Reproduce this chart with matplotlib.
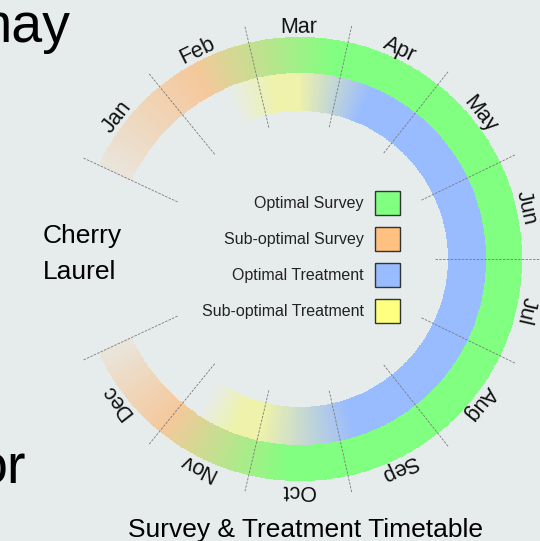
import numpy as np
import matplotlib
matplotlib.use("Agg")
import matplotlib.pyplot as plt
from matplotlib.patches import Patch
from matplotlib.colors import to_rgb

plt.rcParams['font.family'] = ['Liberation Sans', 'DejaVu Sans']

W, H = 540, 541
bg = '#e6ecec'

months = ['Jan', 'Feb', 'Mar', 'Apr', 'May', 'Jun',
          'Jul', 'Aug', 'Sep', 'Oct', 'Nov', 'Dec']
start_angle = 155.0   # degrees where Jan starts, going clockwise
span = 310.0          # degrees covered by the whole year

legend_labels = ['Optimal Survey', 'Sub-optimal Survey',
                 'Optimal Treatment', 'Sub-optimal Treatment']
legend_colors = ['#80ff80', '#ffc080', '#99bbff', '#ffff80']

ring_colors = {'opt_survey': '#80ff80', 'sub_survey': '#f5c89b',
               'opt_treat': '#99bbff', 'sub_treat': '#eef2aa'}

# colour stops along the year, in months from Jan 1st
survey_pos = [0.0, 1.4, 2.9, 9.6, 11.0, 12.0]
survey_state = ['sub_survey', 'sub_survey', 'opt_survey',
                'opt_survey', 'sub_survey', 'sub_survey']
survey_alpha = [0.2, 1.0, 1.0, 1.0, 1.0, 0.2]

treat_pos = [1.6, 2.2, 2.5, 3.4, 8.8, 10.0, 10.3, 10.8]
treat_state = ['sub_treat', 'sub_treat', 'sub_treat', 'opt_treat',
               'opt_treat', 'sub_treat', 'sub_treat', 'sub_treat']
treat_alpha = [0.0, 1.0, 1.0, 1.0, 1.0, 1.0, 1.0, 0.0]

survey_r = (186, 222)
treat_r = (148, 186)


def month_to_theta(m):
    return np.deg2rad(start_angle - np.asarray(m) * span / 12.0)


def ring_rgba(pos, state, alpha, m):
    # gradient between the stops, blended onto the page colour
    cols = np.array([to_rgb(ring_colors[s]) for s in state])
    a = np.interp(m, pos, alpha)
    base = np.array(to_rgb(bg))
    out = np.ones((len(m), 4))
    for c in range(3):
        out[:, c] = a * np.interp(m, pos, cols[:, c]) + (1 - a) * base[c]
    inside = (m >= pos[0]) & (m <= pos[-1])
    out[~inside, 3] = 0
    return out


fig = plt.figure(figsize=(W / 100, H / 100), dpi=100, facecolor=bg)

# polar axes centred on the wheel, 250 px radius
cx, cy, R = 300, 259, 250
ax = fig.add_axes([(cx - R) / W, (H - cy - R) / H, 2 * R / W, 2 * R / H],
                  projection='polar')
ax.set_theta_zero_location('E')
ax.set_theta_direction(1)
ax.set_ylim(0, R)
ax.set_axis_off()

m_edges = np.linspace(0, 12, 721)
m_mid = (m_edges[:-1] + m_edges[1:]) / 2
th_edges = month_to_theta(m_edges)

for pos, state, alpha, rr in [(survey_pos, survey_state, survey_alpha, survey_r),
                              (treat_pos, treat_state, treat_alpha, treat_r)]:
    rgba = ring_rgba(pos, state, alpha, m_mid)
    ax.pcolormesh(th_edges, np.array(rr), rgba[np.newaxis, :, :], shading='flat',
                  antialiased=False, linewidth=0, edgecolors='none')

# month dividers
for k in range(13):
    th = month_to_theta(k)
    ax.plot([th, th], [135, 240], color='#7a7a7a', lw=0.6,
            linestyle=(0, (3, 1.5)), clip_on=False)

# month labels
for k, name in enumerate(months):
    th = month_to_theta(k + 0.5)
    ax.text(th, 226, name, fontsize=15.5, ha='center', va='baseline',
            rotation=np.rad2deg(th) - 90, rotation_mode='anchor', color='#111111')

handles = [Patch(facecolor=c, edgecolor='#333333', linewidth=1.0) for c in legend_colors]
fig.legend(handles, legend_labels, loc='center',
           bbox_to_anchor=(301 / W, 1 - 257 / H), bbox_transform=fig.transFigure,
           markerfirst=False, frameon=False, fontsize=11.5,
           handlelength=1.56, handleheight=1.93, handletextpad=0.7,
           labelspacing=0.75, borderpad=0, borderaxespad=0, labelcolor='#222222')

fig.text(70 / W, 1 - 42 / H, 'may', fontsize=40, ha='right', va='baseline')
fig.text(26 / W, 1 - 483 / H, 'or', fontsize=40, ha='right', va='baseline')
fig.text(43 / W, 1 - 243 / H, 'Cherry', fontsize=19, ha='left', va='baseline')
fig.text(43 / W, 1 - 279 / H, 'Laurel', fontsize=19, ha='left', va='baseline')
fig.text(306 / W, 1 - 537 / H, 'Survey & Treatment Timetable', fontsize=19,
         ha='center', va='baseline')

fig.savefig('out.png', dpi=100, facecolor=bg)
